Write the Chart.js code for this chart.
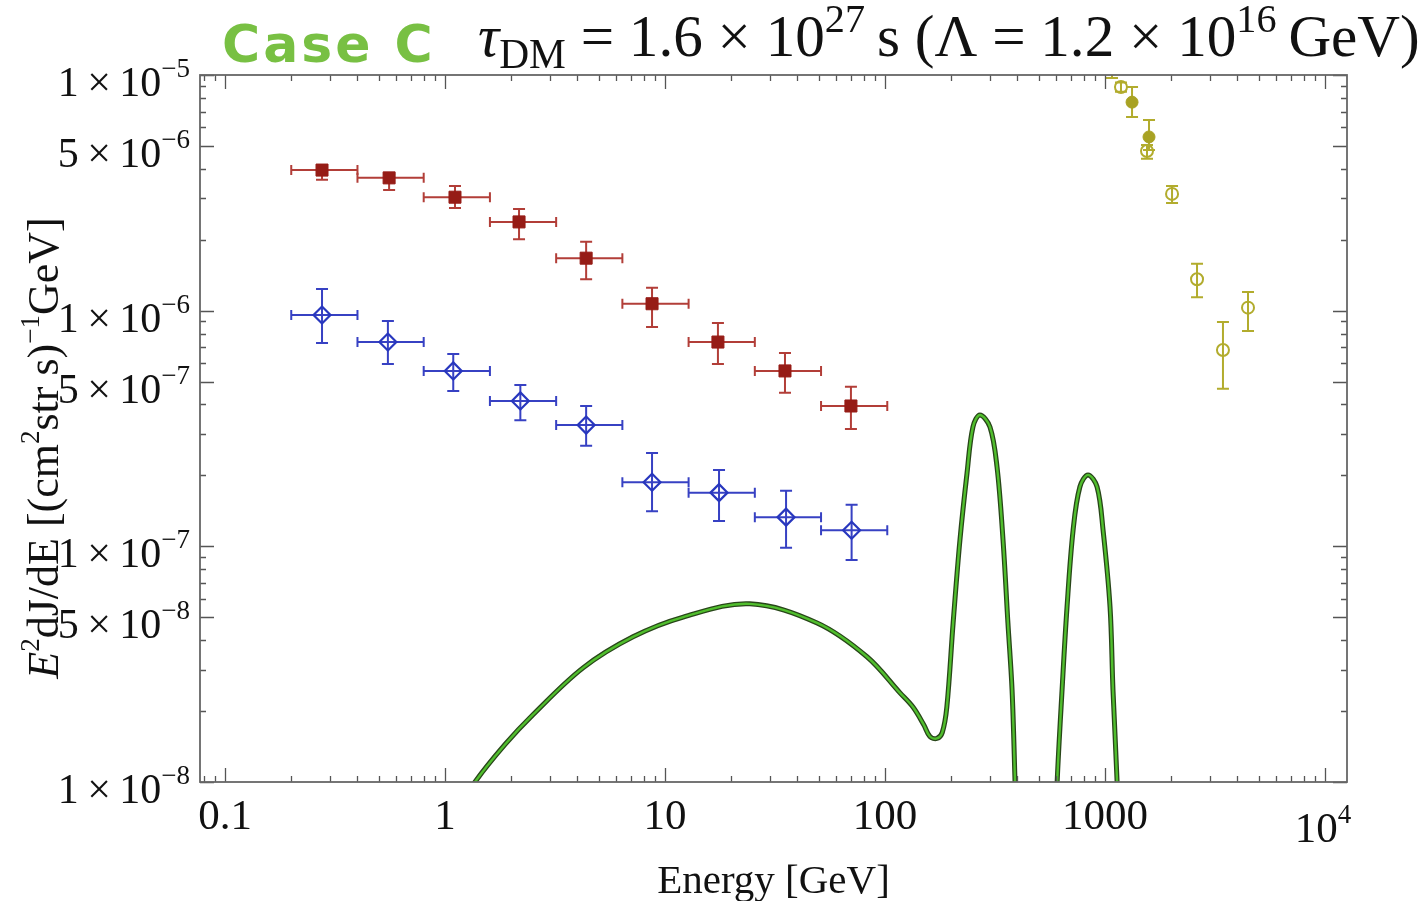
<!DOCTYPE html>
<html><head><meta charset="utf-8">
<script src="https://cdn.jsdelivr.net/npm/chart.js@4.4.1/dist/chart.umd.min.js"></script>
<style>html,body{margin:0;padding:0;background:#fff;} #wrap{width:1425px;height:901px;position:relative;}</style>
</head><body><div id="wrap"><canvas id="c"></canvas></div>
<script>
// ---------- data ----------
// Red squares (data set 1)
const redE    = [0.276, 0.557, 1.11, 2.17, 4.38, 8.73, 17.4, 35.1, 70.0];
const redEmin = [0.2, 0.4, 0.8, 1.6, 3.2, 6.4, 12.8, 25.6, 51.2];
const redEmax = [0.4, 0.8, 1.6, 3.2, 6.4, 12.8, 25.6, 51.2, 102.4];
const redFlux = [3.95e-6, 3.66e-6, 3.03e-6, 2.38e-6, 1.67e-6, 1.07e-6, 7.36e-7, 5.55e-7, 3.94e-7];
const redLo   = [3.59e-6, 3.25e-6, 2.73e-6, 2.01e-6, 1.36e-6, 8.53e-7, 5.94e-7, 4.48e-7, 3.15e-7];
const redHi   = [4.15e-6, 3.80e-6, 3.38e-6, 2.70e-6, 1.96e-6, 1.25e-6, 8.87e-7, 6.62e-7, 4.75e-7];
// Blue open diamonds (data set 2)
const blueE    = [0.276, 0.55, 1.09, 2.2, 4.38, 8.73, 17.6, 35.5, 70.5];
const blueEmin = [0.2, 0.4, 0.8, 1.6, 3.2, 6.4, 12.8, 25.6, 51.2];
const blueEmax = [0.4, 0.8, 1.6, 3.2, 6.4, 12.8, 25.6, 51.2, 102.4];
const blueFlux = [9.59e-7, 7.36e-7, 5.55e-7, 4.14e-7, 3.27e-7, 1.87e-7, 1.69e-7, 1.33e-7, 1.17e-7];
const blueLo   = [7.30e-7, 5.94e-7, 4.56e-7, 3.43e-7, 2.67e-7, 1.41e-7, 1.28e-7, 9.86e-8, 8.75e-8];
const blueHi   = [1.236e-6, 9.03e-7, 6.55e-7, 4.84e-7, 3.94e-7, 2.49e-7, 2.11e-7, 1.72e-7, 1.50e-7];
// Olive filled circles
const oliveFE    = [1327, 1585];
const oliveFFlux = [7.67e-6, 5.46e-6];
const oliveFLo   = [6.63e-6, 4.81e-6];
const oliveFHi   = [8.89e-6, 6.44e-6];
// Olive open circles
const oliveOE    = [1076, 1182, 1552, 2017, 2620, 3437, 4467];
const oliveOFlux = [1.08e-5, 8.89e-6, 4.76e-6, 3.13e-6, 1.36e-6, 6.81e-7, 1.03e-6];
const oliveOLo   = [9.7e-6, 8.5e-6, 4.41e-6, 2.86e-6, 1.14e-6, 4.66e-7, 8.2e-7];
const oliveOHi   = [1.2e-5, 9.3e-6, 5.05e-6, 3.38e-6, 1.58e-6, 8.95e-7, 1.20e-6];
// Green model curve
const curveE    = [1.246, 1.369, 1.87, 2.51, 4.24, 7.15, 12.1, 24.3, 49.1, 82.8, 117, 134, 150, 160, 172, 182, 191, 204, 219, 236, 251, 270, 300, 323, 344, 362, 378, 390, 398, 593, 606, 638, 672, 716, 769, 837, 920, 980, 1054, 1087, 1135, 1158];
const curveFlux = [8.4e-9, 1.0e-8, 1.44e-8, 1.93e-8, 3.05e-8, 4.13e-8, 5.01e-8, 5.70e-8, 4.73e-8, 3.40e-8, 2.39e-8, 2.08e-8, 1.75e-8, 1.56e-8, 1.53e-8, 1.62e-8, 2.08e-8, 4.73e-8, 1.06e-7, 2.05e-7, 3.21e-7, 3.61e-7, 3.21e-7, 2.17e-7, 1.06e-7, 4.73e-8, 2.46e-8, 1.0e-8, 5.2e-9, 5.2e-9, 1.0e-8, 2.46e-8, 5.53e-8, 1.17e-7, 1.79e-7, 2.01e-7, 1.79e-7, 1.17e-7, 5.53e-8, 2.46e-8, 1.0e-8, 5.2e-9];
// Tick labels
const xTickVals   = [0.1, 1, 10, 100, 1000];
const xTickLabels = ['0.1', '1', '10', '100', '1000'];
const yTickVals   = [1e-5, 5e-6, 1e-6, 5e-7, 1e-7, 5e-8, 1e-8];
const yTickMant   = ['1', '5', '1', '5', '1', '5', '1'];
const yTickExp    = ['\u22125', '\u22126', '\u22126', '\u22127', '\u22127', '\u22128', '\u22128'];
const xMin = 0.07696, xMax = 12589, yMin = 1e-8, yMax = 1e-5;

// ---------- helpers ----------
const pts = (xs, ys) => xs.map((x, i) => ({x: x, y: ys[i]}));
const SERIF = '"Liberation Serif", "Times New Roman", serif';
function fnt(p, base) {
  return (p.italic ? 'italic ' : '') + (p.bold ? 'bold ' : '') + (p.size || base) + 'px ' + (p.family || SERIF);
}
function richWidth(ctx, parts, base) {
  let w = 0;
  for (const p of parts) { ctx.font = fnt(p, base); w += ctx.measureText(p.t).width; }
  return w;
}
function drawRich(ctx, x, y, parts, base, align) {
  const w = richWidth(ctx, parts, base);
  let cx = align === 'right' ? x - w : align === 'center' ? x - w / 2 : x;
  ctx.textAlign = 'left';
  ctx.textBaseline = 'alphabetic';
  for (const p of parts) {
    ctx.font = fnt(p, base);
    ctx.fillText(p.t, cx, y + (p.dy || 0));
    cx += ctx.measureText(p.t).width;
  }
  return w;
}

// error bars plugin
const errPlugin = {
  id: 'errbars',
  beforeDatasetsDraw(chart) {
    const ctx = chart.ctx, xs = chart.scales.x, ys = chart.scales.y, a = chart.chartArea;
    ctx.save();
    ctx.beginPath(); ctx.rect(a.left, a.top, a.right - a.left, a.bottom - a.top); ctx.clip();
    chart.data.datasets.forEach(ds => {
      if (!ds.err) return;
      const e = ds.err;
      ctx.strokeStyle = e.color; ctx.lineWidth = e.lw;
      ds.data.forEach((d, i) => {
        const px = xs.getPixelForValue(d.x), py = ys.getPixelForValue(d.y);
        ctx.beginPath();
        if (e.xlo) {
          const x1 = xs.getPixelForValue(e.xlo[i]), x2 = xs.getPixelForValue(e.xhi[i]);
          ctx.moveTo(x1, py); ctx.lineTo(x2, py);
          ctx.moveTo(x1, py - e.capX); ctx.lineTo(x1, py + e.capX);
          ctx.moveTo(x2, py - e.capX); ctx.lineTo(x2, py + e.capX);
        }
        const y1 = ys.getPixelForValue(e.ylo[i]), y2 = ys.getPixelForValue(e.yhi[i]);
        ctx.moveTo(px, y1); ctx.lineTo(px, y2);
        ctx.moveTo(px - e.capY, y1); ctx.lineTo(px + e.capY, y1);
        ctx.moveTo(px - e.capY, y2); ctx.lineTo(px + e.capY, y2);
        ctx.stroke();
      });
    });
    ctx.restore();
  }
};

// frame, ticks, labels, titles
const axesPlugin = {
  id: 'frameaxes',
  afterDraw(chart) {
    const ctx = chart.ctx, xs = chart.scales.x, ys = chart.scales.y, a = chart.chartArea;
    ctx.save();
    // ticks
    ctx.strokeStyle = '#555'; ctx.lineWidth = 1.3;
    ctx.beginPath();
    for (let d = -2; d <= 4; d++) for (let k = 1; k <= 9; k++) {
      const v = k * Math.pow(10, d);
      if (v < xMin || v > xMax) continue;
      const px = Math.round(xs.getPixelForValue(v)) + 0.5;
      const len = k === 1 ? 14 : 6;
      ctx.moveTo(px, a.bottom); ctx.lineTo(px, a.bottom - len);
      ctx.moveTo(px, a.top); ctx.lineTo(px, a.top + len);
    }
    for (let d = -9; d <= -5; d++) for (let k = 1; k <= 9; k++) {
      const v = k * Math.pow(10, d);
      if (v < yMin * 0.999 || v > yMax * 1.001) continue;
      const py = Math.round(ys.getPixelForValue(v)) + 0.5;
      const len = (k === 1 || k === 5) ? 14 : 6;
      ctx.moveTo(a.left, py); ctx.lineTo(a.left + len, py);
      ctx.moveTo(a.right, py); ctx.lineTo(a.right - len, py);
    }
    ctx.stroke();
    // frame
    ctx.strokeStyle = '#666'; ctx.lineWidth = 1.8;
    ctx.strokeRect(a.left, a.top, a.right - a.left, a.bottom - a.top);

    ctx.fillStyle = '#111';
    // x tick labels
    const xf = 43;
    xTickVals.forEach((v, i) => {
      drawRich(ctx, xs.getPixelForValue(v), a.bottom + 47, [{t: xTickLabels[i]}], xf, 'center');
    });
    drawRich(ctx, xs.getPixelForValue(1e4) - 2, a.bottom + 60, [{t: '10'}, {t: '4', size: 27, dy: -19}], xf, 'center');
    // y tick labels
    yTickVals.forEach((v, i) => {
      const py = ys.getPixelForValue(v);
      drawRich(ctx, a.left - 10, py + 21, [{t: yTickMant[i] + '\u2009\u00d7\u200910'}, {t: yTickExp[i], size: 27, dy: -19}], 42, 'right');
    });
    // x axis title
    drawRich(ctx, (a.left + a.right) / 2, 893, [{t: 'Energy [GeV]'}], 41, 'center');
    // y axis title
    ctx.save();
    ctx.translate(58, 448);
    ctx.rotate(-Math.PI / 2);
    drawRich(ctx, 0, 0, [
      {t: 'E', italic: true}, {t: '2', size: 27, dy: -19}, {t: 'dJ/dE [(cm'}, {t: '2', size: 27, dy: -19},
      {t: 'str s)'}, {t: '\u22121', size: 27, dy: -19}, {t: 'GeV]'}
    ], 44, 'center');
    ctx.restore();
    // "Case C"
    ctx.fillStyle = '#78c043';
    ctx.letterSpacing = '3px';
    drawRich(ctx, 222, 62, [{t: 'Case C', bold: true, family: '"DejaVu Sans", sans-serif'}], 52, 'left');
    ctx.letterSpacing = '0px';
    // physics title, fitted to span 478..1420
    ctx.fillStyle = '#111';
    const mk = s => [
      {t: '\u03c4', italic: true, size: s}, {t: 'DM', size: s * 0.7, dy: s * 0.2}, {t: ' = 1.6 \u00d7 10', size: s},
      {t: '27', size: s * 0.68, dy: -s * 0.4}, {t: '\u2009s (\u039b = 1.2 \u00d7 10', size: s},
      {t: '16', size: s * 0.68, dy: -s * 0.4}, {t: '\u2009GeV)', size: s}
    ];
    const w0 = richWidth(ctx, mk(50), 50);
    const s = 50 * (1420 - 478) / w0;
    drawRich(ctx, 478, 56, mk(s), s, 'left');
    ctx.restore();
  }
};

const ctx = document.getElementById('c').getContext('2d');
new Chart(ctx, {
  type: 'scatter',
  data: {
    datasets: [
      {
        label: 'data 1', data: pts(redE, redFlux), order: 0,
        pointStyle: 'rect', pointRadius: 8.5, pointBackgroundColor: 'rgb(150,28,22)', pointBorderColor: 'rgb(150,28,22)', pointBorderWidth: 1,
        err: {xlo: redEmin, xhi: redEmax, ylo: redLo, yhi: redHi, color: 'rgb(178,62,56)', lw: 2, capX: 5, capY: 6}
      },
      {
        label: 'data 2', data: pts(blueE, blueFlux), order: 0,
        pointStyle: 'rectRot', pointRadius: 8.5, pointBackgroundColor: 'rgba(0,0,0,0)', pointBorderColor: 'rgb(40,55,190)', pointBorderWidth: 2.2,
        err: {xlo: blueEmin, xhi: blueEmax, ylo: blueLo, yhi: blueHi, color: 'rgb(55,65,195)', lw: 2, capX: 5, capY: 6}
      },
      {
        label: 'data 3 filled', data: pts(oliveFE, oliveFFlux), order: 0,
        pointStyle: 'circle', pointRadius: 6, pointBackgroundColor: 'rgb(168,162,35)', pointBorderColor: 'rgb(168,162,35)', pointBorderWidth: 1,
        err: {ylo: oliveFLo, yhi: oliveFHi, color: 'rgb(178,172,45)', lw: 2, capY: 6}
      },
      {
        label: 'data 3 open', data: pts(oliveOE, oliveOFlux), order: 0,
        pointStyle: 'circle', pointRadius: 6, pointBackgroundColor: 'rgba(0,0,0,0)', pointBorderColor: 'rgb(178,172,45)', pointBorderWidth: 2,
        err: {ylo: oliveOLo, yhi: oliveOHi, color: 'rgb(178,172,45)', lw: 2, capY: 6}
      },
      {
        label: 'model', data: pts(curveE, curveFlux), order: 1, showLine: true, clip: 0,
        borderColor: 'rgb(80,190,45)', borderWidth: 2.4, pointRadius: 0, tension: 0.35
      },
      {
        label: 'model outline', data: pts(curveE, curveFlux), order: 2, showLine: true, clip: 0,
        borderColor: 'rgb(40,70,25)', borderWidth: 5, pointRadius: 0, tension: 0.35
      }
    ]
  },
  options: {
    responsive: true, maintainAspectRatio: false, animation: false,
    layout: {padding: {left: 200, top: 75, right: 78, bottom: 119}},
    plugins: {legend: {display: false}, tooltip: {enabled: false}},
    scales: {
      x: {type: 'logarithmic', min: xMin, max: xMax, display: false},
      y: {type: 'logarithmic', min: yMin, max: yMax, display: false}
    }
  },
  plugins: [errPlugin, axesPlugin]
});
</script>
</body></html>
